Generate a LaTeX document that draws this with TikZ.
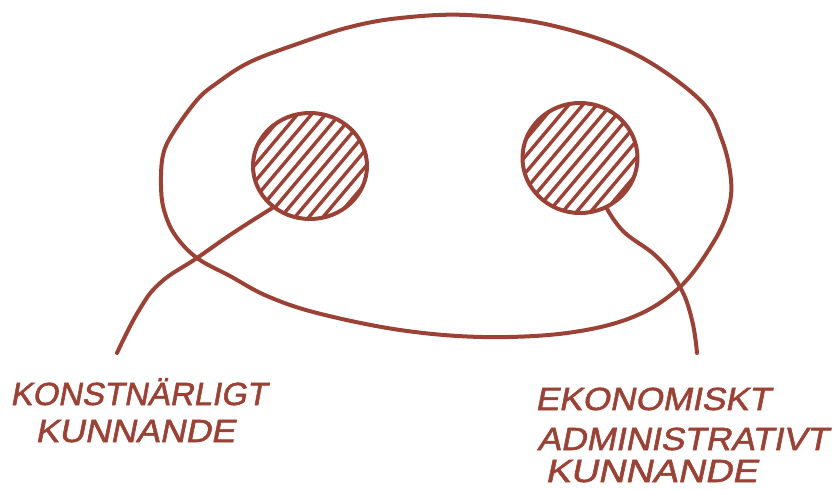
\documentclass[tikz,border=0pt]{standalone}
\usepackage{fontspec}
\setmainfont{Liberation Sans}
\newfontfamily\handfont[FakeSlant=0.18,FakeBold=1.6]{Liberation Sans}
\usetikzlibrary{shapes.geometric}
\definecolor{ink}{RGB}{155,66,54}
\begin{document}
\begin{tikzpicture}[x=1pt,y=-1pt,
  stroke/.style={draw=ink, line width=4pt, line cap=round, line join=round},
  hatchline/.style={draw=ink, line width=3.4pt, line cap=round},
  spot/.style={ellipse, draw=ink, line width=4pt, inner sep=0pt},
  lbl/.style={anchor=base west, inner sep=0pt, text=ink, font=\handfont\fontsize{32}{32}\selectfont}]
\useasboundingbox (0,0) rectangle (836,490);

% big oval
\draw[stroke] plot[smooth cycle, tension=0.6] coordinates {
  (161,185) (163,155) (173,133) (197,100) (217,83) (250,62) (300,43) (350,27) (400,18)
  (467,15) (550,25) (633,53) (700,100) (722,140) (731,180) (728,210) (713,243)
  (680,287) (633,317) (567,333) (483,337) (400,330) (317,313) (267,296)
  (230,276) (197,258) (175,235) (164,210)};

% hatching
\begin{scope}
  \clip (310,166) ellipse [x radius=57, y radius=53];
  \foreach \k in {-8,...,8}
    \draw[hatchline] ({310+\k*14+59},96) -- ({310+\k*14-59},236);
\end{scope}
\begin{scope}
  \clip (580,158) ellipse [x radius=57.5, y radius=55];
  \foreach \k in {-8,...,8}
    \draw[hatchline] ({580+\k*14+59},88) -- ({580+\k*14-59},228);
\end{scope}

% spots
\node[spot, minimum width=114pt, minimum height=106pt] (lc) at (310,166) {};
\node[spot, minimum width=115pt, minimum height=110pt] (rc) at (580,158) {};

% label anchors
\coordinate (lend) at (117,353);
\coordinate (rend) at (697,353);

% connectors
\draw[stroke] plot[smooth, tension=0.7] coordinates {
  (lc.228) (233,233) (197,258) (160,283) (138,312) (lend)};
\draw[stroke] plot[smooth, tension=0.7] coordinates {
  (rc.298) (624,232) (657,257) (680,287) (692,320) (rend)};

% labels
\node[lbl] (l1) at (10,405) {\scalebox{1.03}[1]{KONSTNÄRLIGT}};
\node[lbl] (l2) at (35,442) {\scalebox{1.11}[1]{KUNNANDE}};
\node[lbl] (r1) at (535,410) {\scalebox{1.1}[1]{EKONOMISKT}};
\node[lbl] (r2) at (537,450) {\scalebox{1.1}[1]{ADMINISTRATIVT}};
\node[lbl] (r3) at (545,482) {\scalebox{1.18}[1]{KUNNANDE}};
\end{tikzpicture}
\end{document}
